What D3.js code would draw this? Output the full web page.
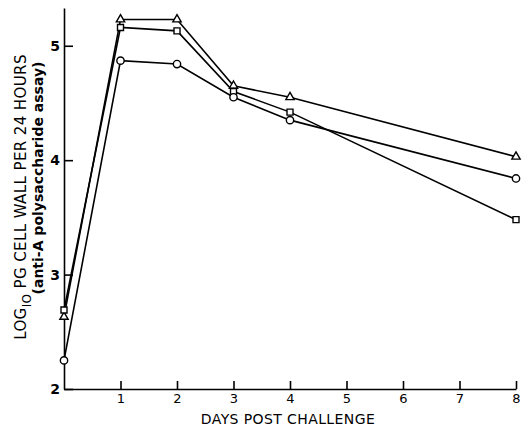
<!DOCTYPE html>
<html>
<head>
<meta charset="utf-8">
<script src="https://cdn.jsdelivr.net/npm/d3@7"></script>
<style>
  body { margin: 0; background: #fff; }
  text { font-family: "DejaVu Sans", sans-serif; fill: #000; }
</style>
</head>
<body>
<script>
// days post challenge and log10 pg cell wall, one array per symbol
const days = [0, 1, 2, 3, 4, 8];
const triangleVals = [2.63, 5.23, 5.23, 4.65, 4.55, 4.03];
const squareVals = [2.69, 5.16, 5.13, 4.60, 4.42, 3.48];
const circleVals = [2.25, 4.87, 4.84, 4.55, 4.35, 3.84];
const xTicks = [1, 2, 3, 4, 5, 6, 7, 8];
const yTicks = [2, 3, 4, 5];

const w = 522, h = 429;
const svg = d3.select("body").append("svg")
  .attr("width", w)
  .attr("height", h);

const x = d3.scaleLinear().domain([0, 8]).range([64, 516]);
const y = d3.scaleLinear().domain([2, 5.33]).range([389, 8]);

// axes, ticks point inward
const xAxis = d3.axisBottom(x).tickValues(xTicks).tickSizeInner(-8).tickSizeOuter(0).tickPadding(5)
  .tickFormat(d3.format("d"));
svg.append("g")
  .attr("transform", `translate(0, ${y(2)})`)
  .call(xAxis)
  .call(g => g.selectAll("line, path").attr("stroke", "#000").attr("stroke-width", 1.6))
  .call(g => g.selectAll("text").attr("font-size", 13).attr("font-family", "DejaVu Sans").attr("fill", "#000"));

const yAxis = d3.axisLeft(y).tickValues(yTicks).tickSizeInner(-9).tickSizeOuter(0).tickPadding(4)
  .tickFormat(d3.format("d"));
svg.append("g")
  .attr("transform", `translate(${x(0)}, 0)`)
  .call(yAxis)
  .call(g => g.selectAll("line, path").attr("stroke", "#000").attr("stroke-width", 1.6))
  .call(g => g.selectAll("text").attr("font-size", 14).attr("font-weight", "bold")
    .attr("font-family", "DejaVu Sans").attr("fill", "#000"));

// axis titles
svg.append("text")
  .attr("x", 288)
  .attr("y", 424)
  .attr("text-anchor", "middle")
  .attr("font-size", 14)
  .attr("letter-spacing", 0.4)
  .text("DAYS POST CHALLENGE");

const ylab = svg.append("text")
  .attr("transform", "translate(26, 197) rotate(-90)")
  .attr("text-anchor", "middle")
  .attr("font-size", 15)
  .attr("letter-spacing", 0.4);
ylab.append("tspan").text("LOG");
ylab.append("tspan").attr("dy", 5).attr("font-size", 12).text("IO");
ylab.append("tspan").attr("dy", -5).text(" PG CELL WALL PER 24 HOURS");

svg.append("text")
  .attr("transform", "translate(43, 178) rotate(-90)")
  .attr("text-anchor", "middle")
  .attr("font-size", 14)
  .attr("font-weight", "bold")
  .text("(anti-A polysaccharide assay)");

// series
const series = [
  { name: "triangle", vals: triangleVals },
  { name: "square", vals: squareVals },
  { name: "circle", vals: circleVals }
];

const line = d3.line()
  .x((d, i) => x(days[i]))
  .y(d => y(d));

svg.selectAll(".series")
  .data(series)
  .enter()
  .append("path")
  .attr("class", "series")
  .attr("d", d => line(d.vals))
  .attr("fill", "none")
  .attr("stroke", "#000")
  .attr("stroke-width", 1.6);

const symbols = { triangle: d3.symbolTriangle, square: d3.symbolSquare, circle: d3.symbolCircle };
const sizes = { triangle: 30, square: 36, circle: 42 };

series.forEach(s => {
  svg.selectAll(".m-" + s.name)
    .data(s.vals)
    .enter()
    .append("path")
    .attr("class", "m-" + s.name)
    .attr("d", d3.symbol().type(symbols[s.name]).size(sizes[s.name]))
    .attr("transform", (d, i) => `translate(${x(days[i])}, ${y(d)})`)
    .attr("fill", "#fff")
    .attr("stroke", "#000")
    .attr("stroke-width", 1.4);
});
</script>
</body>
</html>
